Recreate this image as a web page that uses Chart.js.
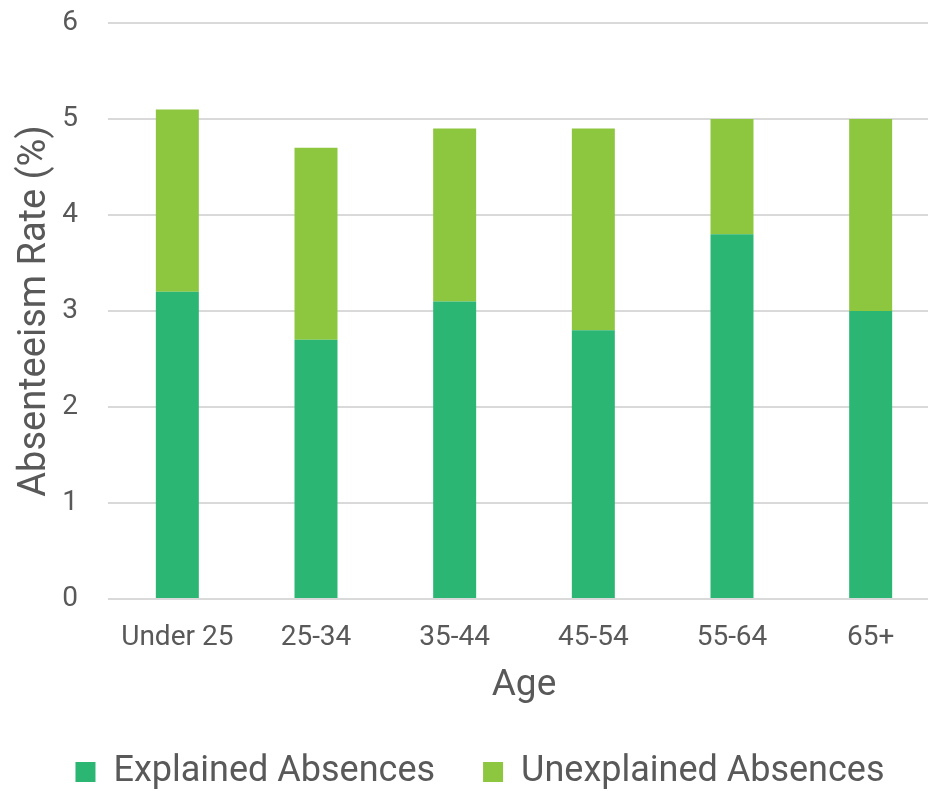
<!DOCTYPE html>
<html>
<head>
<meta charset="utf-8">
<script src="https://cdn.jsdelivr.net/npm/chart.js@4/dist/chart.umd.min.js"></script>
<style>
  html, body { margin: 0; padding: 0; background: #fff; overflow: hidden; }
  #wrap { width: 960px; height: 800px; position: relative; }
</style>
</head>
<body>
<div id="wrap"><canvas id="c" width="960" height="800"></canvas></div>
<script>
const categories = ["Under 25", "25-34", "35-44", "45-54", "55-64", "65+"];
const explained = [3.2, 2.7, 3.1, 2.8, 3.8, 3.0];
const unexplained = [1.9, 2.0, 1.8, 2.1, 1.2, 2.0];
const yTicks = [0, 1, 2, 3, 4, 5, 6];

const textColor = "#595959";
const fontFamily = "Roboto, 'Noto Sans', sans-serif";

new Chart(document.getElementById("c"), {
  type: "bar",
  data: {
    labels: categories,
    datasets: [
      { label: "Explained Absences", data: explained, backgroundColor: "#2BB673", borderWidth: 0 },
      { label: "Unexplained Absences", data: unexplained, backgroundColor: "#8DC63F", borderWidth: 0 }
    ]
  },
  options: {
    responsive: false,
    animation: false,
    devicePixelRatio: 1,
    datasets: { bar: { categoryPercentage: 1, barPercentage: 0.31 } },
    layout: { padding: { top: 23, left: 20, right: 20, bottom: 0 } },
    plugins: {
      tooltip: { enabled: false },
      legend: {
        position: "bottom",
        labels: {
          color: textColor,
          font: { family: fontFamily, size: 36 },
          boxWidth: 20,
          boxHeight: 20,
          padding: 48
        }
      }
    },
    scales: {
      x: {
        stacked: true,
        grid: { display: false },
        border: { display: false },
        ticks: { color: textColor, font: { family: fontFamily, size: 28 }, padding: 14, maxRotation: 0 },
        title: { display: true, text: "Age", color: textColor, font: { family: fontFamily, size: 37 }, padding: { top: 0, bottom: -2 } },
        afterFit: (s) => { s.height = 107; }
      },
      y: {
        stacked: true,
        min: 0,
        max: 6,
        afterBuildTicks: (s) => { s.ticks = yTicks.map(v => ({ value: v })); },
        grid: { color: "#d9d9d9", lineWidth: 2, drawTicks: false },
        border: { display: false },
        ticks: { color: textColor, font: { family: fontFamily, size: 28 }, padding: 30 },
        title: { display: true, text: "Absenteeism Rate (%)", color: textColor, font: { family: fontFamily, size: 38 }, padding: { top: -7, bottom: 0 } },
        afterFit: (s) => { s.width = 88; s.paddingTop = 17; s.paddingBottom = 17; }
      }
    }
  }
});
</script>
</body>
</html>
